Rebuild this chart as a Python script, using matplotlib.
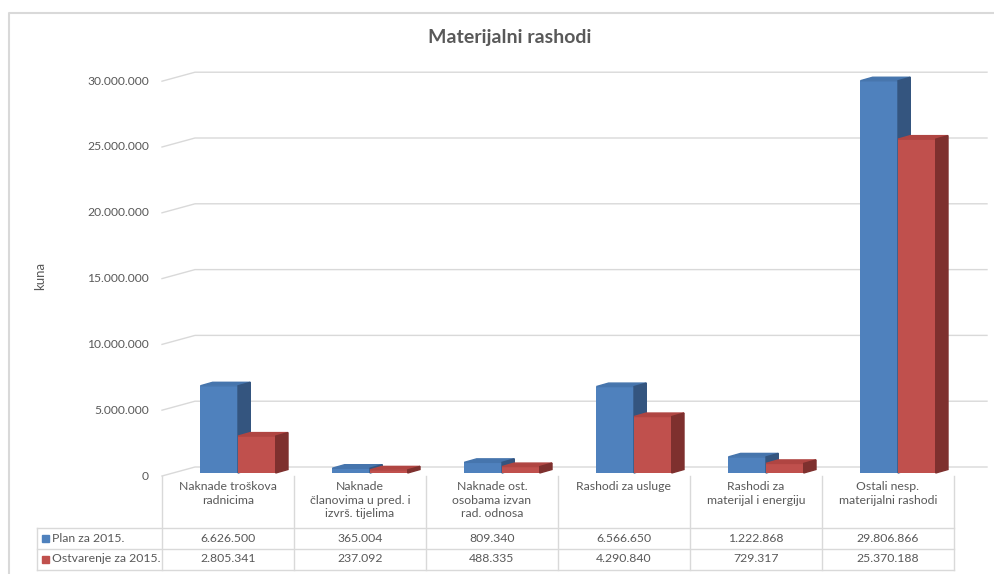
import matplotlib.pyplot as plt
from matplotlib.patches import Polygon, Rectangle
from matplotlib.lines import Line2D

categories = ["Naknade troškova\nradnicima",
              "Naknade\nčlanovima u pred. i\nizvrš. tijelima",
              "Naknade ost.\nosobama izvan\nrad. odnosa",
              "Rashodi za usluge",
              "Rashodi za\nmaterijal i energiju",
              "Ostali nesp.\nmaterijalni rashodi"]
series_names = ["Plan za 2015.", "Ostvarenje za 2015."]
plan = [6626500, 365004, 809340, 6566650, 1222868, 29806866]
ostvarenje = [2805341, 237092, 488335, 4290840, 729317, 25370188]
yticks = [0, 5000000, 10000000, 15000000, 20000000, 25000000, 30000000]

plt.rcParams['font.family'] = ['Lato', 'DejaVu Sans']
TXT = '#595959'
GRID = '#d9d9d9'
W, H = 994, 574


def fx(x):
    return x / W


def fy(y):
    return 1 - y / H


def fmt(v):
    return f"{v:,}".replace(',', '.')


fig = plt.figure(figsize=(W / 100, H / 100), dpi=100)

# chart border (left + top visible)
fig.add_artist(Line2D([fx(8.5), fx(8.5), fx(1000)], [fy(580), fy(12.5), fy(12.5)],
                      color=GRID, lw=1.5))

fig.text(fx(510), fy(38), "Materijalni rashodi", ha='center', va='center',
         fontsize=14, fontweight='bold', color=TXT)
fig.text(fx(40), fy(276), "kuna", ha='center', va='center', rotation=90,
         fontsize=9.5, color=TXT)

# plot area: 0 at pixel 473, 30M at pixel 78.2
ax = fig.add_axes([fx(162), fy(473), 792 / W, 394.8 / H])
ax.set_xlim(-0.5, 5.5)
ax.set_ylim(0, 30e6)
ax.axis('off')

py = 30e6 / 394.8   # value per pixel
px = 1 / 132        # x unit per pixel

for v in yticks:
    yf = v - 3 * py
    yb = v + 6 * py
    ax.plot([-0.5, -0.5 + 33 * px, 5.5 + 33 * px], [yf, yb, yb],
            color=GRID, lw=1, clip_on=False, zorder=0)
    ax.text(-0.5 - 13 * px, yf, fmt(v), ha='right', va='center',
            fontsize=8.7, color=TXT)

w = 37.7 * px
off = 10 * px
dx = 12.3 * px
dy = 3.5 * py
colors = [('#4f81bd', '#4675ad', '#34557f'), ('#c0504d', '#b04542', '#7e302e')]
xs = list(range(len(categories)))
for k, vals in enumerate([plan, ostvarenje]):
    front, top, side = colors[k]
    pos = [x + off + (k - 0.5) * w for x in xs]
    bars = ax.bar(pos, vals, width=w, color=front, zorder=2 + k * 2, clip_on=False)
    for b in bars.patches:
        x0, x1 = b.get_x(), b.get_x() + b.get_width()
        h = b.get_height()
        ax.add_patch(Polygon([(x0, h), (x1, h), (x1 + dx, h + dy), (x0 + dx, h + dy)],
                             closed=True, color=top, zorder=2 + k * 2, clip_on=False))
        ax.add_patch(Polygon([(x1, 0), (x1, h), (x1 + dx, h + dy), (x1 + dx, dy)],
                             closed=True, color=side, zorder=2 + k * 2, clip_on=False))

# data table
cell_x = [162 + 132 * i for i in range(len(categories) + 1)]
for x in cell_x:
    fig.add_artist(Line2D([fx(x), fx(x)], [fy(476), fy(569.5)], color=GRID, lw=1))
fig.add_artist(Line2D([fx(37), fx(37)], [fy(528), fy(569.5)], color=GRID, lw=1))
for y in [528, 549, 569.5]:
    fig.add_artist(Line2D([fx(37), fx(954)], [fy(y), fy(y)], color=GRID, lw=1))

for i, cat in enumerate(categories):
    cx = cell_x[i] + 66
    fig.text(fx(cx), fy(481), cat, ha='center', va='top', fontsize=8.8,
             color=TXT, linespacing=1.3)
    fig.text(fx(cx), fy(538.5), fmt(plan[i]), ha='center', va='center',
             fontsize=8.8, color=TXT)
    fig.text(fx(cx), fy(559), fmt(ostvarenje[i]), ha='center', va='center',
             fontsize=8.8, color=TXT)

for k, (name, y) in enumerate(zip(series_names, [538.5, 559])):
    fig.add_artist(Rectangle((fx(41.5), fy(y + 3.5)), 7 / W, 7 / H,
                             color=colors[k][0], transform=fig.transFigure))
    fig.text(fx(52), fy(y), name, ha='left', va='center', fontsize=8.8, color=TXT)

fig.savefig('out.png', dpi=100)
